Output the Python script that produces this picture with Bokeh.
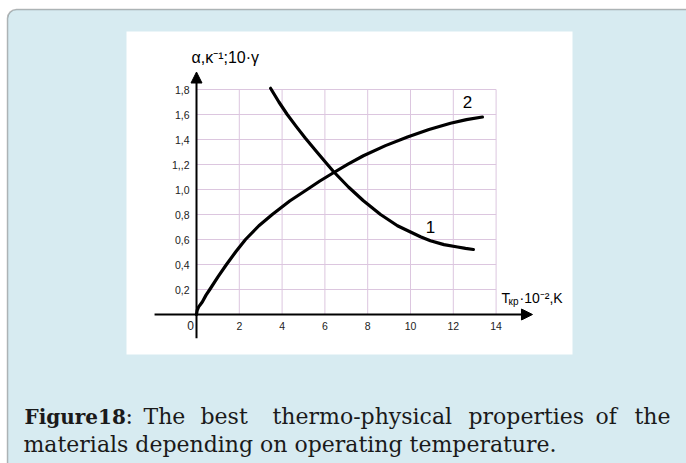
from bokeh.plotting import figure
from bokeh.models import (Range1d, LinearAxis, FixedTicker, BoxAnnotation, Arrow,
                          NormalHead, Label)
from bokeh.embed import file_html
from bokeh.resources import INLINE

# ---------------- data ----------------
curve1_x = [3.46, 3.85, 4.24, 4.665, 5.09, 5.605, 6.12, 6.4, 7.1, 7.8, 8.6, 9.39,
            10.0, 10.465, 10.93, 11.565, 12.2, 12.57, 12.94]
curve1_y = [1.81, 1.70, 1.60, 1.503, 1.41, 1.304, 1.20, 1.144, 1.02, 0.91, 0.80, 0.71,
            0.66, 0.622, 0.59, 0.559, 0.54, 0.529, 0.52]

curve2_x = [0.0, 0.03, 0.1, 0.27, 0.445, 0.62, 1.01, 1.4, 1.845, 2.29, 2.915, 3.54,
            4.355, 5.17, 5.765, 6.36, 7.08, 7.8, 8.83, 9.86, 10.865, 11.87, 12.615, 13.36]
curve2_y = [0.0, 0.033, 0.061, 0.10, 0.155, 0.20, 0.303, 0.40, 0.504, 0.60, 0.71, 0.80,
            0.908, 1.00, 1.068, 1.13, 1.203, 1.27, 1.351, 1.42, 1.48, 1.53, 1.559, 1.58]

x_ticks = [2, 4, 6, 8, 10, 12, 14]
x_tick_labels = ["2", "4", "6", "8", "10", "12", "14"]
y_ticks = [0.2, 0.4, 0.6, 0.8, 1.0, 1.2, 1.4, 1.6, 1.8]
y_tick_labels = ["0,2", "0,4", "0,6", "0,8", "1,0", "1,,2", "1,4", "1,6", "1,8"]

curve_names = ["1", "2"]
y_title = "α,κ⁻¹;10·γ"
caption_bold = "Figure18"
caption_line1 = [":", "The", "best", "thermo-physical", "properties", "of", "the"]
caption_line2 = "materials depending on operating temperature."

# ---------------- layout helpers (pixel -> data) ----------------
W, H = 686, 463
X0, Y0 = 196.0, 314.0      # pixel position of the origin
SX, SY = 21.4, 125.0       # pixels per unit


def dx(px):
    return (px - X0) / SX


def dy(py):
    return (Y0 - py) / SY


p = figure(width=W, height=H,
           x_range=Range1d(dx(0), dx(W)), y_range=Range1d(dy(H), dy(0)),
           output_backend="svg", toolbar_location=None,
           x_axis_location=None, y_axis_location=None,
           min_border=0, outline_line_color=None,
           background_fill_color="white", border_fill_color="white")
p.grid.visible = False

# page decorations
p.add_layout(BoxAnnotation(left=dx(7), right=dx(720), top=dy(9), bottom=dy(500),
                           fill_color="#d7ebf1", fill_alpha=1.0,
                           line_color="#1a1a1a", line_width=1.5,
                           border_radius=9, level="underlay"))
p.add_layout(BoxAnnotation(left=dx(126), right=dx(572), top=dy(31), bottom=dy(354),
                           fill_color="white", fill_alpha=1.0, line_color=None,
                           level="underlay"))

# grid lines (from tick values)
grid_color = "#dcc6df"
p.segment(x0=x_ticks, y0=[0] * len(x_ticks), x1=x_ticks, y1=[max(y_ticks)] * len(x_ticks),
          line_color=grid_color, line_width=1)
p.segment(x0=[0] * len(y_ticks), y0=y_ticks, x1=[max(x_ticks)] * len(y_ticks), y1=y_ticks,
          line_color=grid_color, line_width=1)

# curves
p.line(curve1_x, curve1_y, line_color="black", line_width=3.2,
       line_join="round", line_cap="round")
p.line(curve2_x, curve2_y, line_color="black", line_width=3.2,
       line_join="round", line_cap="round")

# axes at the origin
tick_font = "Liberation Sans"
yaxis = LinearAxis(fixed_location=0, ticker=FixedTicker(ticks=y_ticks),
                   major_label_overrides=dict(zip(y_ticks, y_tick_labels)),
                   axis_line_color=None, major_tick_line_color=None,
                   minor_tick_line_color=None, major_tick_out=0, major_tick_in=0,
                   major_label_standoff=7, major_label_text_font=tick_font,
                   major_label_text_font_size="10.5px", major_label_text_color="#222222")
p.add_layout(yaxis, "left")
xaxis = LinearAxis(fixed_location=0, ticker=FixedTicker(ticks=x_ticks),
                   major_label_overrides=dict(zip(x_ticks, x_tick_labels)),
                   axis_line_color=None, major_tick_line_color=None,
                   minor_tick_line_color=None, major_tick_out=0, major_tick_in=0,
                   major_label_standoff=7, major_label_text_font=tick_font,
                   major_label_text_font_size="10.5px", major_label_text_color="#222222")
p.add_layout(xaxis, "below")

# axis lines with arrow heads
p.add_layout(Arrow(end=NormalHead(size=11, fill_color="black", line_color="black"),
                   x_start=0, y_start=-0.19, x_end=0, y_end=1.94,
                   line_color="black", line_width=2))
p.add_layout(Arrow(end=NormalHead(size=11, fill_color="black", line_color="black"),
                   x_start=-1.96, y_start=0, x_end=15.7, y_end=0,
                   line_color="black", line_width=2))

p.add_layout(Label(x=-0.28, y=-0.088, text="0", text_align="center", text_baseline="middle",
                   text_font=tick_font, text_font_size="12px", text_color="#222222"))

# curve labels
p.add_layout(Label(x=10.93, y=0.70, text=curve_names[0], text_align="center",
                   text_baseline="middle", text_font=tick_font, text_font_size="17px",
                   text_color="black"))
p.add_layout(Label(x=12.66, y=1.70, text=curve_names[1], text_align="center",
                   text_baseline="middle", text_font=tick_font, text_font_size="17px",
                   text_color="black"))

# axis titles
p.add_layout(Label(x=dx(191), y=dy(57), text=y_title, text_font=tick_font,
                   text_font_size="16px", text_color="black", text_baseline="alphabetic"))
p.add_layout(Label(x=dx(501), y=dy(297), text="T", text_font=tick_font,
                   text_font_size="14px", text_color="black", text_baseline="alphabetic"))
p.add_layout(Label(x=dx(508), y=dy(301), text="кр", text_font=tick_font,
                   text_font_size="10px", text_color="black", text_baseline="alphabetic"))
p.add_layout(Label(x=dx(519), y=dy(297), text="·10⁻²,K", text_font=tick_font,
                   text_font_size="14px", text_color="black", text_baseline="alphabetic"))

# caption
cap_font = "DejaVu Serif"
cap_color = "#1a1a1a"
p.add_layout(Label(x=dx(24), y=dy(416), text=caption_bold, text_font=cap_font,
                   text_font_style="bold", text_font_size="20px", text_color=cap_color,
                   text_baseline="alphabetic"))
line1_px = [125, 143, 200, 272, 468, 595, 634]
for word, px in zip(caption_line1, line1_px):
    p.add_layout(Label(x=dx(px), y=dy(416), text=word, text_font=cap_font,
                       text_font_size="22px", text_color=cap_color,
                       text_baseline="alphabetic"))
p.add_layout(Label(x=dx(23), y=dy(444), text=caption_line2, text_font=cap_font,
                   text_font_size="22px", text_color=cap_color, text_baseline="alphabetic"))

open("out.html", "w").write(file_html(p, INLINE))
